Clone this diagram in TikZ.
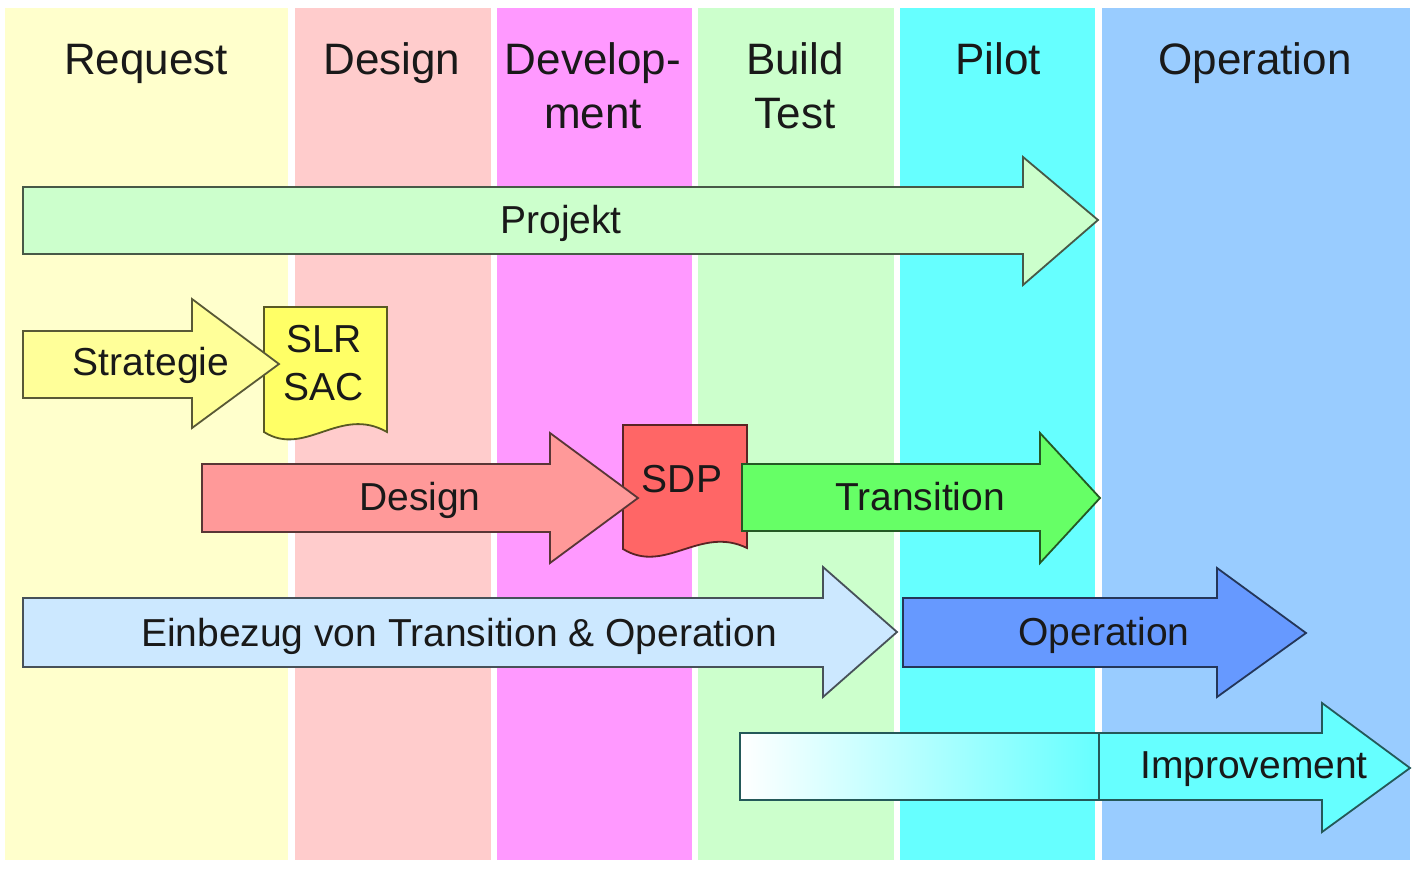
\documentclass[tikz,border=0pt]{standalone}
\usepackage{fontspec}
\setmainfont{Liberation Sans}
\usepackage{tikz}
\definecolor{colrequest}{HTML}{FFFFCC}
\definecolor{coldesign}{HTML}{FFCCCC}
\definecolor{coldevel}{HTML}{FF99FF}
\definecolor{colbuild}{HTML}{CCFFCC}
\definecolor{colpilot}{HTML}{66FFFF}
\definecolor{coloperation}{HTML}{99CCFF}
\definecolor{pfprojekt}{HTML}{CCFFCC}
\definecolor{pfstrategie}{HTML}{FFFF99}
\definecolor{dokslr}{HTML}{FFFF66}
\definecolor{pfdesign}{HTML}{FF9999}
\definecolor{doksdp}{HTML}{FF6666}
\definecolor{pftransition}{HTML}{66FF66}
\definecolor{pfeinbezug}{HTML}{CCE8FF}
\definecolor{pfoperation}{HTML}{6699FF}
\definecolor{pfimprovement}{HTML}{66FFFF}
\tikzstyle{kopf}=[inner sep=0pt, align=center, anchor=base, text=black!90, font=\fontsize{22}{27}\selectfont]
\tikzstyle{pfeiltext}=[inner sep=0pt, align=center, anchor=base, text=black!90, font=\fontsize{19.5}{24}\selectfont]
\tikzset{pfeil/.style={draw=#1!35!black, fill=#1, line width=0.9pt, line join=miter}}

\begin{document}
\begin{tikzpicture}[x=0.5pt, y=-0.5pt]
			\useasboundingbox (0,0) rectangle (1424,868);
			\fill[colrequest] (5,8) rectangle (288,860);
			\fill[coldesign] (295,8) rectangle (491,860);
			\fill[coldevel] (497,8) rectangle (692,860);
			\fill[colbuild] (698,8) rectangle (894,860);
			\fill[colpilot] (900,8) rectangle (1095,860);
			\fill[coloperation] (1102,8) rectangle (1410,860);
			\node[kopf] (kRequest) at (146,74) {Request};
			\node[kopf] (kDesign) at (392,74) {Design};
			\node[kopf] (kDevel) at (593,128) {Develop-\\ment};
			\node[kopf] (kBuild) at (795,128) {Build\\Test};
			\node[kopf] (kPilot) at (998,74) {Pilot};
			\node[kopf] (kOperation) at (1255,74) {Operation};
			\path[pfeil=pfprojekt]
				(23,187)--(1023,187)--(1023,157)--(1098,220)--(1023,285)--(1023,254)--(23,254)--cycle;
			\node[pfeiltext] (projekt) at (561,233) {Projekt};
			\path[pfeil=dokslr]
				(264,307)--(387,307)--(387,432) .. controls (340,405) and (305,458) .. (264,432)--cycle;
			\node[pfeiltext] (slr) at (324,400) {SLR\\SAC};
			\path[pfeil=pfstrategie]
				(23,331)--(192,331)--(192,299)--(279,364)--(192,428)--(192,398)--(23,398)--cycle;
			\node[pfeiltext] (strategie) at (151,375) {Strategie};
			\path[pfeil=doksdp]
				(623,425)--(747,425)--(747,548) .. controls (700,525) and (665,575) .. (623,549)--cycle;
			\node[pfeiltext] (sdp) at (682,492) {SDP};
			\path[pfeil=pfdesign]
				(202,464)--(550,464)--(550,433)--(638,498)--(550,563)--(550,532)--(202,532)--cycle;
			\node[pfeiltext] (design) at (420,510) {Design};
			\path[pfeil=pftransition]
				(742,464)--(1040,464)--(1040,433)--(1100,498)--(1040,563)--(1040,531)--(742,531)--cycle;
			\node[pfeiltext] (transition) at (920,510) {Transition};
			\path[pfeil=pfeinbezug]
				(23,598)--(823,598)--(823,567)--(897,632)--(823,697)--(823,667)--(23,667)--cycle;
			\node[pfeiltext] (einbezug) at (459,646) {Einbezug von Transition \& Operation};
			\path[pfeil=pfoperation]
				(903,598)--(1217,598)--(1217,568)--(1306,633)--(1217,697)--(1217,667)--(903,667)--cycle;
			\node[pfeiltext] (operation) at (1104,645) {Operation};
			\path[draw=pfimprovement!35!black, line width=0.9pt, left color=white, right color=pfimprovement]
				(740,733) rectangle (1099,800);
			\path[pfeil=pfimprovement]
				(1099,733)--(1322,733)--(1322,703)--(1410,768)--(1322,832)--(1322,800)--(1099,800)--cycle;
			\node[pfeiltext] (improvement) at (1254,778) {Improvement};
		\end{tikzpicture}
\end{document}
